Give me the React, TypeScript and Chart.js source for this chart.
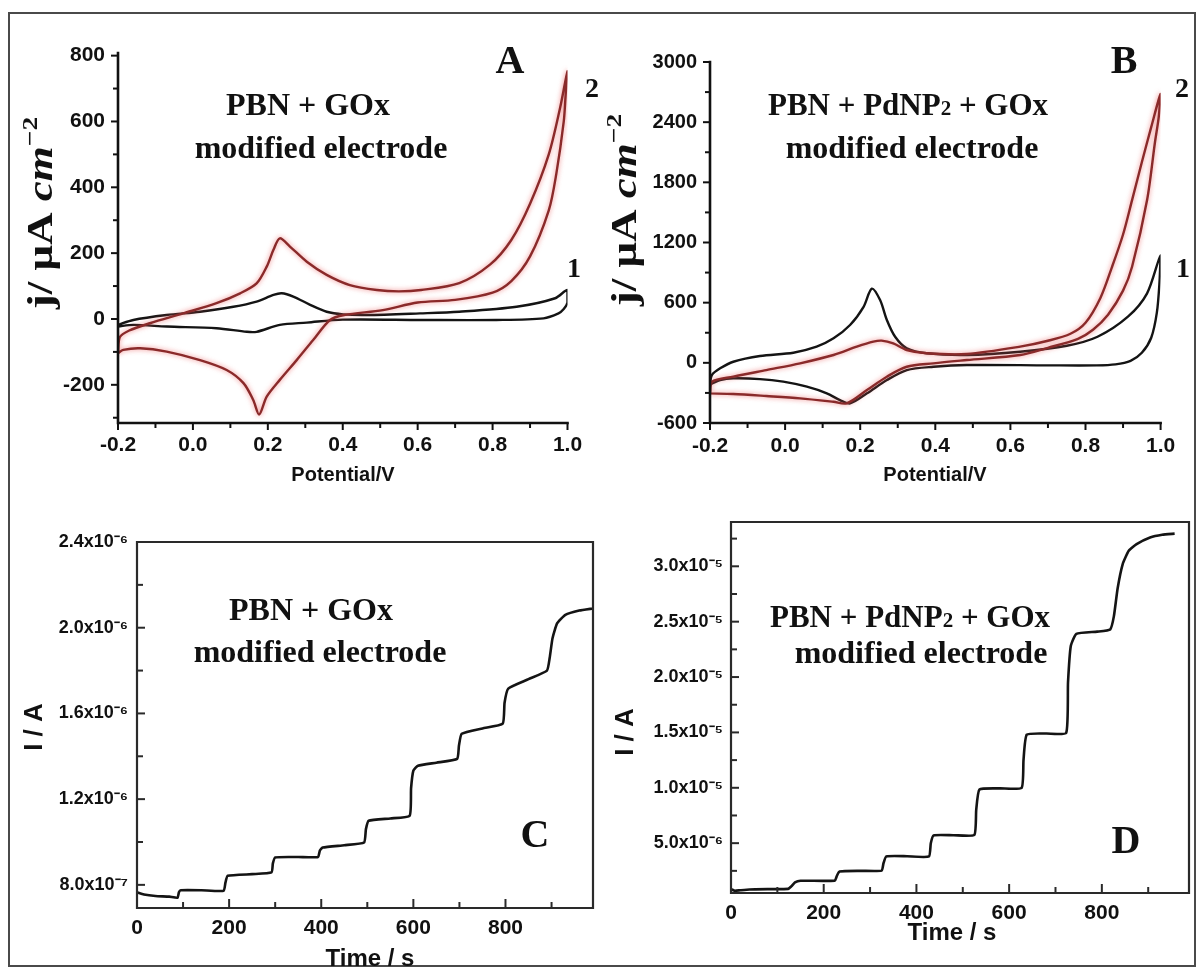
import React, { useEffect, useRef } from "react";
import { Chart, registerables } from "chart.js";

Chart.register(...registerables);

const SANS = '"Liberation Sans", Arial, Helvetica, sans-serif';
const SERIF = '"Liberation Serif", "Times New Roman", Times, serif';
Chart.defaults.font.family = SANS;
Chart.defaults.color = "#111";

// ---------------- Panel A (PBN + GOx, cyclic voltammetry) ----------------
const aCurve1Potential = [-0.2, -0.159, -0.07, 0.019, 0.108, 0.17, 0.215, 0.237, 0.268, 0.313, 0.357, 0.401, 0.464, 0.606, 0.711, 0.864, 0.967, 1.0, 1.0, 0.99, 0.976, 0.936, 0.81, 0.611, 0.4, 0.304, 0.232, 0.17, 0.144, 0.063, -0.07, -0.159, -0.2];
const aCurve1Current = [-18, -3, 12, 22, 37, 53, 73, 78, 68, 43, 22, 14, 12, 17, 22, 37, 63, 88, 50, 30, 17, 2, -3, -3, -2, -11, -18, -39, -39, -28, -23, -18, -23];

const aCurve2Potential = [-0.2, -0.195, -0.17, -0.115, -0.026, 0.063, 0.126, 0.17, 0.197, 0.215, 0.232, 0.259, 0.304, 0.357, 0.419, 0.491, 0.55, 0.609, 0.711, 0.793, 0.85, 0.9, 0.95, 0.98, 1.0,
  0.995, 0.99, 0.97, 0.95, 0.9, 0.85, 0.8, 0.7, 0.6, 0.507, 0.404, 0.366, 0.321, 0.277, 0.232, 0.197, 0.177, 0.161, 0.135, 0.09, 0.019, -0.07, -0.141, -0.186, -0.2];
const aCurve2Current = [-104, -55, -35, -13, 17, 48, 78, 108, 159, 210, 245, 220, 174, 134, 103, 88, 84, 88, 109, 165, 240, 350, 500, 640, 752,
  680, 600, 440, 330, 190, 115, 80, 58, 50, 27, 12, -3, -64, -125, -185, -236, -290, -246, -195, -155, -125, -99, -89, -94, -104];

// ---------------- Panel B (PBN + PdNP2 + GOx, cyclic voltammetry) ----------------
const bCurve1Potential = [-0.2, -0.195, -0.173, -0.138, -0.067, 0.022, 0.084, 0.129, 0.173, 0.209, 0.231, 0.253, 0.271, 0.293, 0.324, 0.377, 0.484, 0.626, 0.75, 0.832, 0.913, 0.964, 1.0,
  0.997, 0.99, 0.975, 0.95, 0.92, 0.88, 0.83, 0.7, 0.484, 0.395, 0.324, 0.271, 0.218, 0.173, 0.146, 0.111, 0.058, -0.005, -0.067, -0.138, -0.173, -0.196, -0.2];
const bCurve1Current = [-215, -122, -55, 11, 68, 101, 161, 244, 377, 559, 740, 626, 427, 260, 145, 95, 78, 111, 170, 260, 460, 693, 1070,
  800, 500, 250, 100, 20, -15, -25, -25, -22, -39, -72, -172, -304, -404, -371, -304, -238, -188, -162, -155, -172, -210, -215];

const bCurve2Potential = [-0.2, -0.195, -0.138, -0.05, 0.04, 0.129, 0.191, 0.235, 0.257, 0.288, 0.324, 0.377, 0.484, 0.626, 0.7, 0.76, 0.8, 0.84, 0.87, 0.9, 0.924, 0.95, 0.975, 1.0,
  0.995, 0.985, 0.964, 0.924, 0.9, 0.86, 0.82, 0.78, 0.7, 0.626, 0.484, 0.395, 0.324, 0.271, 0.218, 0.164, 0.129, 0.04, -0.05, -0.138, -0.2];
const bCurve2Current = [-305, -188, -138, -72, -5, 78, 161, 211, 221, 194, 128, 95, 88, 161, 220, 290, 400, 650, 950, 1280, 1623, 2000, 2350, 2680,
  2450, 2200, 1623, 958, 720, 480, 330, 240, 150, 78, 28, -5, -39, -138, -271, -404, -388, -354, -331, -311, -305];

// ---------------- Panel C (PBN + GOx, amperometry) ----------------
const cTime = [0, 15, 40, 70, 88, 91, 95, 140, 188, 192, 197, 250, 292, 295, 300, 350, 393, 397, 403, 450, 493, 497, 503, 550, 592, 595, 600, 610, 650, 695, 699, 705, 750, 794, 798, 806, 850, 890, 896, 902, 912, 930, 960, 990];
const cCurrent = [7.65e-7, 7.55e-7, 7.48e-7, 7.45e-7, 7.4e-7, 7.65e-7, 7.75e-7, 7.75e-7, 7.72e-7, 8.1e-7, 8.42e-7, 8.5e-7, 8.58e-7, 9.0e-7, 9.28e-7, 9.3e-7, 9.3e-7, 9.6e-7, 9.74e-7, 9.85e-7,
  9.98e-7, 1.06e-6, 1.099e-6, 1.11e-6, 1.123e-6, 1.25e-6, 1.333e-6, 1.356e-6, 1.37e-6, 1.388e-6, 1.45e-6, 1.505e-6, 1.53e-6, 1.552e-6, 1.65e-6, 1.716e-6, 1.76e-6, 1.8e-6, 1.86e-6, 1.95e-6,
  2.02e-6, 2.06e-6, 2.08e-6, 2.09e-6];

// ---------------- Panel D (PBN + PdNP2 + GOx, amperometry) ----------------
const dTime = [0, 8, 20, 40, 80, 123, 130, 138, 150, 224, 228, 234, 280, 325, 329, 335, 380, 427, 431, 437, 480, 525, 529, 536, 580, 627, 631, 638, 680, 723, 727, 733, 745, 790, 818, 826, 834, 845, 858, 875, 904, 930, 957];
const dCurrent = [0.85e-6, 0.7e-6, 0.75e-6, 0.82e-6, 0.85e-6, 0.87e-6, 1.1e-6, 1.45e-6, 1.6e-6, 1.62e-6, 2.0e-6, 2.45e-6, 2.5e-6, 2.52e-6, 3.2e-6, 3.8e-6, 3.82e-6, 3.8e-6, 5.0e-6, 5.7e-6,
  5.72e-6, 5.75e-6, 8.0e-6, 9.85e-6, 9.95e-6, 10.0e-6, 12.5e-6, 14.8e-6, 14.9e-6, 14.95e-6, 19.5e-6, 22.8e-6, 23.9e-6, 24.1e-6, 24.3e-6, 25.5e-6, 28.0e-6, 30.2e-6, 31.4e-6, 32.0e-6,
  32.6e-6, 32.85e-6, 32.95e-6];

// ---------------- Ticks ----------------
const potentialTicks = [-0.2, 0, 0.2, 0.4, 0.6, 0.8, 1.0];
const potentialTickLabels = ["-0.2", "0.0", "0.2", "0.4", "0.6", "0.8", "1.0"];
const potentialMinorTicks = [-0.1, 0.1, 0.3, 0.5, 0.7, 0.9];
const aCurrentTicks = [-200, 0, 200, 400, 600, 800];
const aCurrentTickLabels = ["-200", "0", "200", "400", "600", "800"];
const aCurrentMinorTicks = [-300, -100, 100, 300, 500, 700];
const bCurrentTicks = [-600, 0, 600, 1200, 1800, 2400, 3000];
const bCurrentTickLabels = ["-600", "0", "600", "1200", "1800", "2400", "3000"];
const bCurrentMinorTicks = [-300, 300, 900, 1500, 2100, 2700];
const timeTicks = [0, 200, 400, 600, 800];
const timeTickLabels = ["0", "200", "400", "600", "800"];
const timeMinorTicks = [100, 300, 500, 700, 900];
const cCurrentTicks = [8e-7, 1.2e-6, 1.6e-6, 2.0e-6, 2.4e-6];
const cCurrentTickLabels = ["8.0x10⁻⁷", "1.2x10⁻⁶", "1.6x10⁻⁶", "2.0x10⁻⁶", "2.4x10⁻⁶"];
const cCurrentMinorTicks = [1.0e-6, 1.4e-6, 1.8e-6, 2.2e-6];
const dCurrentTicks = [5e-6, 1e-5, 1.5e-5, 2e-5, 2.5e-5, 3e-5];
const dCurrentTickLabels = ["5.0x10⁻⁶", "1.0x10⁻⁵", "1.5x10⁻⁵", "2.0x10⁻⁵", "2.5x10⁻⁵", "3.0x10⁻⁵"];
const dCurrentMinorTicks = [2.5e-6, 7.5e-6, 1.25e-5, 1.75e-5, 2.25e-5, 2.75e-5, 3.25e-5];

// ---------------- helpers ----------------
const pts = (xs: number[], ys: number[]) => xs.map((x, i) => ({ x, y: ys[i] }));

type Seg = { t: string; font: string; dy?: number };
type TextItem = { segs: Seg[]; x: number; y: number; rotate?: boolean; stretch?: number };
type Marks = { axis: "x" | "y"; values: number[]; len: number };
type PanelProps = {
  left: number; top: number; width: number; height: number;
  area: { l: number; t: number; r: number; b: number };
  xRange: [number, number]; yRange: [number, number];
  xTicks: number[]; xTickLabels: string[]; yTicks: number[]; yTickLabels: string[];
  xFont: number; yFont: number; xPad: number; yPad: number;
  datasets: any[];
  marks: Marks[]; inward: boolean; box: boolean;
  texts: TextItem[];
};

const RED = "#8a2a2a";
const GLOW = "rgba(235,90,90,0.75)";
const BLACK = "#141414";

function cvDataset(xs: number[], ys: number[], color: string, glow?: string) {
  return { data: pts(xs, ys), borderColor: color, borderWidth: 2.4, showLine: true, pointRadius: 0, tension: 0.3, fill: false, glow };
}
function stepDataset(xs: number[], ys: number[]) {
  return { data: pts(xs, ys), borderColor: BLACK, borderWidth: 2.6, showLine: true, pointRadius: 0, tension: 0.15, fill: false };
}

const yTitle = (x: number, y: number): TextItem => ({
  segs: [
    { t: "j/ μA ", font: `bold 36px ${SERIF}` },
    { t: "cm", font: `italic bold 36px ${SERIF}` },
    { t: "−2", font: `bold 22px ${SERIF}`, dy: -15 },
  ],
  x, y, rotate: true, stretch: 1.25,
});
const ann = (t: string, x: number, y: number, size = 32): TextItem => ({ segs: [{ t, font: `bold ${size}px ${SERIF}` }], x, y });
const pdLine = (x: number, y: number): TextItem => ({
  segs: [
    { t: "PBN + PdNP", font: `bold 31px ${SERIF}` },
    { t: "2", font: `bold 21px ${SERIF}` },
    { t: " + GOx", font: `bold 31px ${SERIF}` },
  ],
  x, y,
});
const sansText = (t: string, x: number, y: number, size: number, rotate = false): TextItem => ({
  segs: [{ t, font: `bold ${size}px ${SANS}` }], x, y, rotate,
});

function decorPlugin(p: PanelProps) {
  return {
    id: "decor",
    beforeDatasetDraw(chart: any, args: any) {
      const ds = chart.data.datasets[args.index];
      if (ds.glow) {
        chart.ctx.save();
        chart.ctx.shadowColor = ds.glow;
        chart.ctx.shadowBlur = 5;
      }
    },
    afterDatasetDraw(chart: any, args: any) {
      const ds = chart.data.datasets[args.index];
      if (ds.glow) chart.ctx.restore();
    },
    afterDraw(chart: any) {
      const { ctx, chartArea: ca, scales } = chart;
      ctx.save();
      ctx.strokeStyle = p.box ? "#2a2a2a" : "#111";
      ctx.lineWidth = p.box ? 2.2 : 2.6;
      ctx.lineCap = "square";
      ctx.beginPath();
      if (p.box) ctx.rect(ca.left, ca.top, ca.right - ca.left, ca.bottom - ca.top);
      else {
        ctx.moveTo(ca.left, ca.top);
        ctx.lineTo(ca.left, ca.bottom);
        ctx.lineTo(ca.right, ca.bottom);
      }
      ctx.stroke();
      ctx.lineCap = "butt";
      ctx.lineWidth = 2;
      const dir = p.inward ? -1 : 1;
      p.marks.forEach((m) => {
        const s = scales[m.axis];
        m.values.forEach((v) => {
          const px = s.getPixelForValue(v);
          ctx.beginPath();
          if (m.axis === "x") {
            ctx.moveTo(px, ca.bottom);
            ctx.lineTo(px, ca.bottom + dir * m.len);
          } else {
            ctx.moveTo(ca.left, px);
            ctx.lineTo(ca.left - dir * m.len, px);
          }
          ctx.stroke();
        });
      });
      ctx.fillStyle = "#111";
      ctx.textBaseline = "alphabetic";
      ctx.textAlign = "left";
      p.texts.forEach((ti) => {
        const widths = ti.segs.map((s) => {
          ctx.font = s.font;
          return ctx.measureText(s.t).width;
        });
        const total = widths.reduce((a, b) => a + b, 0);
        ctx.save();
        ctx.translate(ti.x, ti.y);
        if (ti.rotate) ctx.rotate(-Math.PI / 2);
        if (ti.stretch) ctx.scale(ti.stretch, 1);
        let cx = -total / 2;
        ti.segs.forEach((s, i) => {
          ctx.font = s.font;
          ctx.fillText(s.t, cx, s.dy || 0);
          cx += widths[i];
        });
        ctx.restore();
      });
      ctx.restore();
    },
  };
}

function Panel(p: PanelProps) {
  const ref = useRef<HTMLCanvasElement>(null);
  useEffect(() => {
    if (!ref.current) return;
    const chart = new Chart(ref.current, {
      type: "scatter",
      data: { datasets: p.datasets },
      options: {
        animation: false,
        responsive: false,
        maintainAspectRatio: false,
        events: [],
        layout: { padding: { left: 0, top: p.area.t, right: p.width - p.area.r, bottom: 0 } },
        plugins: { legend: { display: false }, tooltip: { enabled: false } },
        scales: {
          x: {
            type: "linear",
            min: p.xRange[0],
            max: p.xRange[1],
            grid: { display: false, drawTicks: false },
            border: { display: false },
            ticks: {
              autoSkip: false,
              maxRotation: 0,
              padding: p.xPad,
              color: "#111",
              font: { size: p.xFont, weight: "bold", family: SANS },
              callback: (_v: any, i: number) => p.xTickLabels[i],
            },
            afterBuildTicks: (s: any) => {
              s.ticks = p.xTicks.map((v) => ({ value: v }));
            },
            afterFit: (s: any) => {
              s.height = p.height - p.area.b;
            },
          },
          y: {
            type: "linear",
            min: p.yRange[0],
            max: p.yRange[1],
            grid: { display: false, drawTicks: false },
            border: { display: false },
            ticks: {
              autoSkip: false,
              padding: p.yPad,
              color: "#111",
              font: { size: p.yFont, weight: "bold", family: SANS },
              callback: (_v: any, i: number) => p.yTickLabels[i],
            },
            afterBuildTicks: (s: any) => {
              s.ticks = p.yTicks.map((v) => ({ value: v }));
            },
            afterFit: (s: any) => {
              s.width = p.area.l;
            },
          },
        },
      } as any,
      plugins: [decorPlugin(p)],
    } as any);
    return () => chart.destroy();
  }, []);
  return (
    <canvas
      ref={ref}
      width={p.width}
      height={p.height}
      style={{ position: "absolute", left: p.left, top: p.top, width: p.width, height: p.height }}
    />
  );
}

const W = 600;
const H = 484;

const panelA: PanelProps = {
  left: 0, top: 0, width: W, height: H,
  area: { l: 118, t: 53, r: 567.5, b: 423 },
  xRange: [-0.2, 1.0], yRange: [-316, 808],
  xTicks: potentialTicks, xTickLabels: potentialTickLabels,
  yTicks: aCurrentTicks, yTickLabels: aCurrentTickLabels,
  xFont: 21, yFont: 21, xPad: 10, yPad: 13,
  datasets: [
    cvDataset(aCurve2Potential, aCurve2Current, RED, GLOW),
    cvDataset(aCurve1Potential, aCurve1Current, BLACK),
  ],
  marks: [
    { axis: "x", values: potentialTicks, len: 7 },
    { axis: "x", values: potentialMinorTicks, len: 5 },
    { axis: "y", values: aCurrentTicks, len: 7 },
    { axis: "y", values: aCurrentMinorTicks, len: 5 },
  ],
  inward: false, box: false,
  texts: [
    yTitle(52, 213),
    sansText("Potential/V", 343, 481, 20),
    ann("PBN + GOx", 308, 115),
    ann("modified electrode", 321, 158),
    ann("A", 510, 73, 40),
    ann("2", 592, 97, 28),
    ann("1", 574, 277, 28),
  ],
};

const panelB: PanelProps = {
  left: 600, top: 0, width: W, height: H,
  area: { l: 110, t: 62, r: 560.6, b: 423 },
  xRange: [-0.2, 1.0], yRange: [-600, 3000],
  xTicks: potentialTicks, xTickLabels: potentialTickLabels,
  yTicks: bCurrentTicks, yTickLabels: bCurrentTickLabels,
  xFont: 21, yFont: 20, xPad: 11, yPad: 13,
  datasets: [
    cvDataset(bCurve2Potential, bCurve2Current, RED, GLOW),
    cvDataset(bCurve1Potential, bCurve1Current, BLACK),
  ],
  marks: [
    { axis: "x", values: potentialTicks, len: 7 },
    { axis: "x", values: potentialMinorTicks, len: 5 },
    { axis: "y", values: bCurrentTicks, len: 7 },
    { axis: "y", values: bCurrentMinorTicks, len: 5 },
  ],
  inward: false, box: false,
  texts: [
    yTitle(36, 210),
    sansText("Potential/V", 335, 481, 20),
    pdLine(308, 115),
    ann("modified electrode", 312, 158),
    ann("B", 524, 73, 40),
    ann("2", 582, 97, 28),
    ann("1", 583, 277, 28),
  ],
};

const panelC: PanelProps = {
  left: 0, top: 484, width: W, height: H,
  area: { l: 137, t: 58, r: 593, b: 424 },
  xRange: [0, 990], yRange: [6.92e-7, 2.4e-6],
  xTicks: timeTicks, xTickLabels: timeTickLabels,
  yTicks: cCurrentTicks, yTickLabels: cCurrentTickLabels,
  xFont: 21, yFont: 18, xPad: 8, yPad: 9,
  datasets: [stepDataset(cTime, cCurrent)],
  marks: [
    { axis: "x", values: timeTicks, len: 9 },
    { axis: "x", values: timeMinorTicks, len: 6 },
    { axis: "y", values: cCurrentTicks, len: 8 },
    { axis: "y", values: cCurrentMinorTicks, len: 6 },
  ],
  inward: true, box: true,
  texts: [
    sansText("I / A", 42, 243, 26, true),
    sansText("Time / s", 370, 482, 24),
    ann("PBN + GOx", 311, 136),
    ann("modified electrode", 320, 178),
    ann("C", 535, 363, 40),
  ],
};

const panelD: PanelProps = {
  left: 600, top: 484, width: W, height: H,
  area: { l: 131, t: 38, r: 589, b: 409 },
  xRange: [0, 988], yRange: [5e-7, 3.4e-5],
  xTicks: timeTicks, xTickLabels: timeTickLabels,
  yTicks: dCurrentTicks, yTickLabels: dCurrentTickLabels,
  xFont: 21, yFont: 18, xPad: 8, yPad: 8,
  datasets: [stepDataset(dTime, dCurrent)],
  marks: [
    { axis: "x", values: timeTicks, len: 9 },
    { axis: "x", values: timeMinorTicks, len: 6 },
    { axis: "y", values: dCurrentTicks, len: 8 },
    { axis: "y", values: dCurrentMinorTicks, len: 6 },
  ],
  inward: true, box: true,
  texts: [
    sansText("I / A", 33, 248, 26, true),
    sansText("Time / s", 352, 456, 24),
    pdLine(310, 143),
    ann("modified electrode", 321, 179),
    ann("D", 526, 369, 40),
  ],
};

export default function App() {
  return (
    <div style={{ position: "absolute", left: 0, top: 0, width: 1200, height: 968, background: "#fff", overflow: "hidden" }}>
      <div
        style={{
          position: "absolute", left: 8, top: 12, width: 1188, height: 955,
          border: "2px solid #4a4a4a", boxSizing: "border-box",
        }}
      />
      <Panel {...panelA} />
      <Panel {...panelB} />
      <Panel {...panelC} />
      <Panel {...panelD} />
    </div>
  );
}
